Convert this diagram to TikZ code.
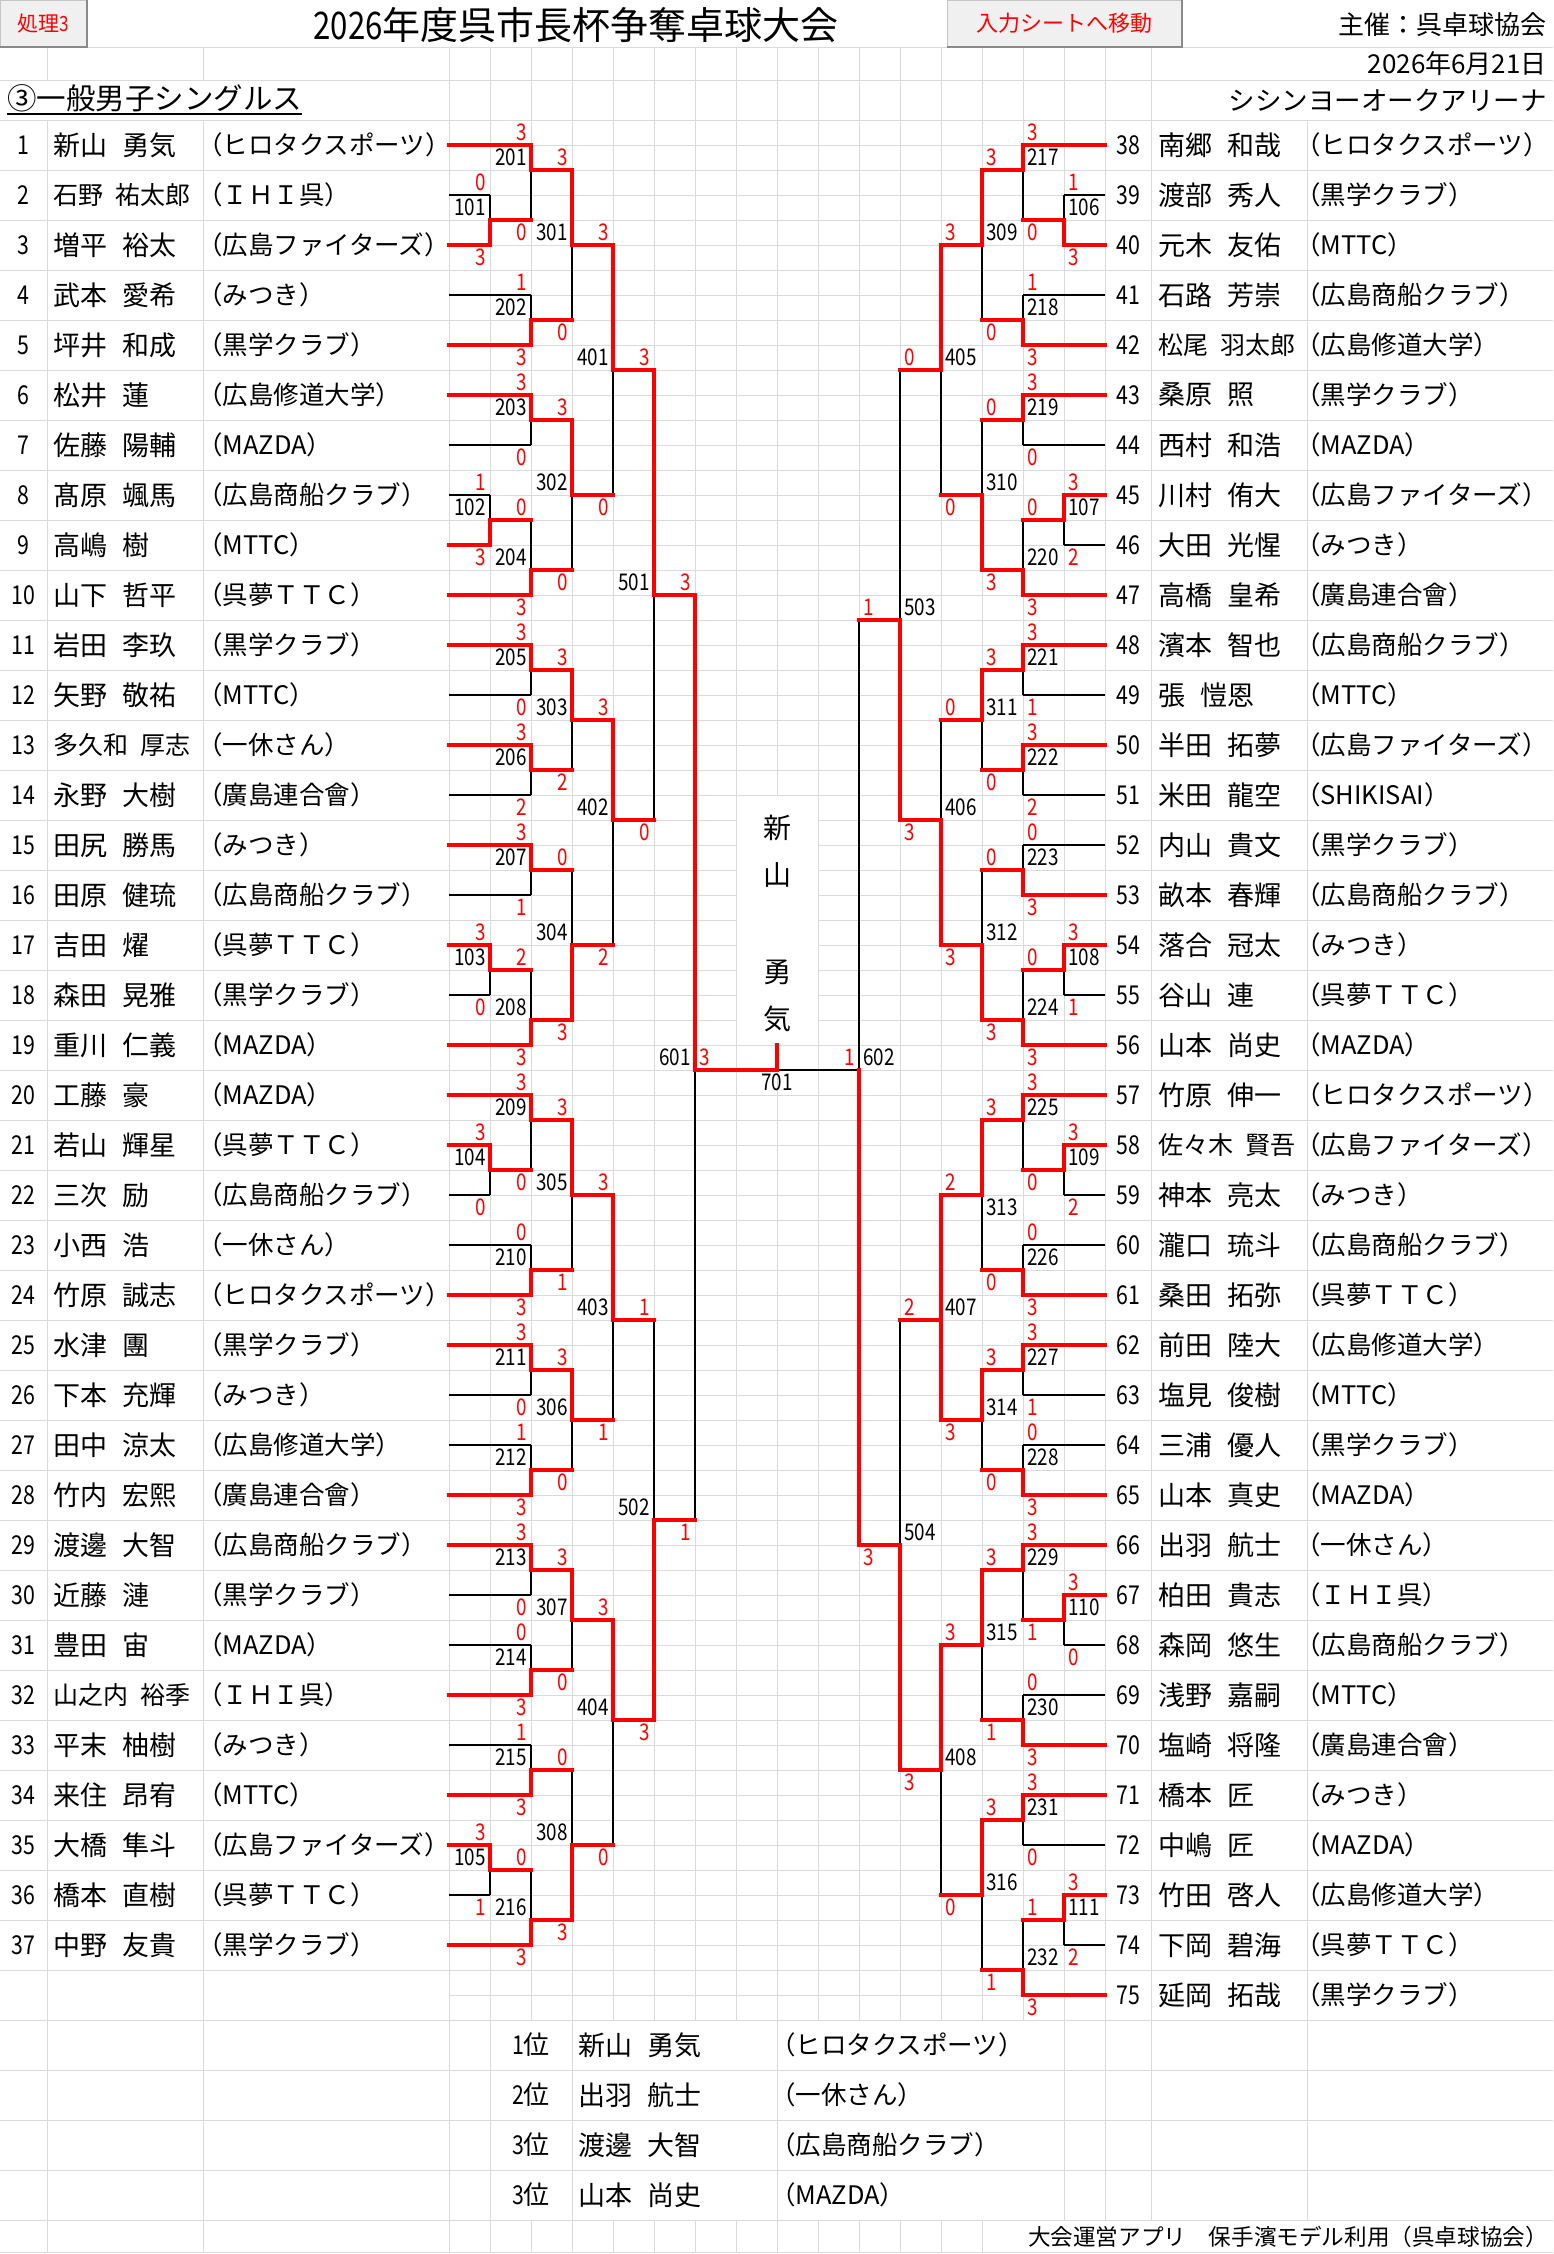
\documentclass[tikz,border=0pt]{standalone}
\usepackage{fontspec}
\setmainfont{Noto Sans CJK JP}
\definecolor{xred}{HTML}{FF0000}
\definecolor{gridc}{HTML}{DADADA}
\definecolor{btnf}{HTML}{F0F0F0}
\definecolor{btnd}{HTML}{8A8A8A}
\pgfdeclarelayer{gridlayer}
\pgfdeclarelayer{blklayer}
\pgfsetlayers{gridlayer,blklayer,main}
\newcommand\fs[1]{\fontsize{#1}{#1}\selectfont}
\newcommand\nd[1]{\scalebox{0.82}[1]{#1}}
\newcommand\gp{\hspace{0.55em}}
\newcommand\gq{\hspace{0.5em}}
\newcommand\longnm[1]{{\fs{25}#1}}
\tikzset{
  gridl/.style={draw=gridc, line width=1pt},
  redl/.style={draw=xred, line width=3.2pt, line cap=rect},
  blkl/.style={draw=black, line width=1.1pt},
  numt/.style={font=\fs{26}, inner sep=0pt},
  namet/.style={font=\fs{27}, inner sep=0pt, anchor=west},
  clubt/.style={font=\fs{25.5}, inner sep=0pt, anchor=west},
  sc/.style={font=\fs{23}, text=xred, inner sep=0pt},
  lbl/.style={font=\fs{23}, inner sep=0pt},
  btn/.style={fill=btnf, draw=btnd!50, line width=1pt, inner sep=0pt, text=xred},
}
% left player: number, name, club, end column, r/b
\newcommand\LP[5]{%
  \pgfmathsetmacro\bpY{145+50*(#1-1)}%
  \pgfmathsetmacro\bpE{449+41*#4}%
  \node[numt] (no#1) at (23.5,\bpY) {\nd{#1}};
  \node[namet] (nm#1) at (53,\bpY) {#2};
  \node[clubt] (cl#1) at (197,\bpY) {#3};
  \coordinate (ps#1) at (449,\bpY);
  \coordinate (pe#1) at (\bpE,\bpY);
  \if#5r\draw[redl] (ps#1) -- (pe#1);%
  \else\begin{pgfonlayer}{blklayer}\draw[blkl] (ps#1) -- (pe#1);\end{pgfonlayer}\fi
}
\newcommand\RP[5]{%
  \pgfmathsetmacro\bpY{145+50*(#1-38)}%
  \pgfmathsetmacro\bpE{449+41*#4}%
  \node[numt] (no#1) at (1128,\bpY) {\nd{#1}};
  \node[namet] (nm#1) at (1158,\bpY) {#2};
  \node[clubt] (cl#1) at (1295,\bpY) {#3};
  \coordinate (ps#1) at (1105,\bpY);
  \coordinate (pe#1) at (\bpE,\bpY);
  \if#5r\draw[redl] (ps#1) -- (pe#1);%
  \else\begin{pgfonlayer}{blklayer}\draw[blkl] (ps#1) -- (pe#1);\end{pgfonlayer}\fi
}
% match: label, column, ytop, ybot, yout, winner t/b, score top, score bottom, label y
\newcommand\LM[9]{%
  \pgfmathsetmacro\bmX{449+41*#2}%
  \pgfmathsetmacro\bmO{449+41*(#2+1)}%
  \coordinate (m#1t) at (\bmX,#3);
  \coordinate (m#1b) at (\bmX,#4);
  \coordinate (m#1o) at (\bmX,#5);
  \coordinate (m#1n) at (\bmO,#5);
  \if#6t\draw[redl] (m#1t) -- (m#1o);
    \begin{pgfonlayer}{blklayer}\draw[blkl] (m#1o) -- (m#1b);\end{pgfonlayer}%
  \else\begin{pgfonlayer}{blklayer}\draw[blkl] (m#1t) -- (m#1o);\end{pgfonlayer}%
    \draw[redl] (m#1o) -- (m#1b);\fi
  \ifnum#2<6 \draw[redl] (m#1o) -- (m#1n);\fi
  \node[sc,anchor=east] (m#1st) at (\bmX-4,#3-12.5) {\nd{#7}};
  \node[sc,anchor=east] (m#1sb) at (\bmX-4,#4+12.5) {\nd{#8}};
  \node[lbl,anchor=east] (ml#1) at (\bmX-4,#9) {\nd{#1}};
}
\newcommand\RM[9]{%
  \pgfmathsetmacro\bmX{449+41*#2}%
  \pgfmathsetmacro\bmO{449+41*(#2-1)}%
  \coordinate (m#1t) at (\bmX,#3);
  \coordinate (m#1b) at (\bmX,#4);
  \coordinate (m#1o) at (\bmX,#5);
  \coordinate (m#1n) at (\bmO,#5);
  \if#6t\draw[redl] (m#1t) -- (m#1o);
    \begin{pgfonlayer}{blklayer}\draw[blkl] (m#1o) -- (m#1b);\end{pgfonlayer}%
  \else\begin{pgfonlayer}{blklayer}\draw[blkl] (m#1t) -- (m#1o);\end{pgfonlayer}%
    \draw[redl] (m#1o) -- (m#1b);\fi
  \ifnum#2>10 \draw[redl] (m#1o) -- (m#1n);\fi
  \node[sc,anchor=west] (m#1st) at (\bmX+4,#3-12.5) {\nd{#7}};
  \node[sc,anchor=west] (m#1sb) at (\bmX+4,#4+12.5) {\nd{#8}};
  \node[lbl,anchor=west] (ml#1) at (\bmX+4,#9) {\nd{#1}};
}
\begin{document}
\begin{tikzpicture}[x=1pt,y=-1pt]
\useasboundingbox (0,0) rectangle (1553,2254);
% ---------------- grid ----------------
\begin{pgfonlayer}{gridlayer}
\fill[white] (0,0) rectangle (1553,2254);
\foreach \y in {47,80,120,2070,2120,2170,2220,2252} \draw[gridl] (0,\y) -- (1553,\y);
\foreach \i in {1,...,38}{\pgfmathtruncatemacro\yy{120+50*\i}%
  \draw[gridl] (0,\yy) -- (449,\yy) (1105,\yy) -- (1553,\yy);}
\foreach \i in {1,...,76}{\pgfmathtruncatemacro\yy{120+25*\i}%
  \ifnum\yy>795 \ifnum\yy<1045 \draw[gridl] (449,\yy) -- (736,\yy) (818,\yy) -- (1105,\yy);%
  \else \draw[gridl] (449,\yy) -- (1105,\yy);\fi
  \else \draw[gridl] (449,\yy) -- (1105,\yy);\fi}
\foreach \k in {0,...,16}{\pgfmathtruncatemacro\xx{449+41*\k}%
  \ifnum\k=8 \draw[gridl] (\xx,47) -- (\xx,795) (\xx,1045) -- (\xx,2020);%
  \else \draw[gridl] (\xx,47) -- (\xx,2020);\fi}
\foreach \k in {0,1,3,8,15,16}{\pgfmathtruncatemacro\xx{449+41*\k}\draw[gridl] (\xx,2020) -- (\xx,2220);}
\foreach \k in {0,...,13}{\pgfmathtruncatemacro\xx{449+41*\k}\draw[gridl] (\xx,2220) -- (\xx,2252);}
\draw[gridl] (47,47) -- (47,80) (47,120) -- (47,2252) (203,47) -- (203,80) (203,120) -- (203,2252);
\draw[gridl] (1151,47) -- (1151,2220) (1307,120) -- (1307,2220);
\end{pgfonlayer}
% ---------------- header ----------------
\node[btn, minimum width=86pt, minimum height=46pt, anchor=north west, font=\fs{21}] (btn1) at (0,0) {処理\nd{3}};
\draw[btnd, line width=2pt] (btn1.north east) -- (btn1.south east) -- (btn1.south west);
\node[btn, minimum width=234pt, minimum height=46pt, anchor=north west, font=\fs{22}] (btn2) at (947,0) {入力シートへ移動};
\draw[btnd, line width=2pt] (btn2.north east) -- (btn2.south east) -- (btn2.south west);
\node[inner sep=0pt, font=\fs{38}] (title) at (576,25) {\nd{2026}年度呉市長杯争奪卓球大会};
\node[inner sep=0pt, font=\fs{26}, anchor=east] (host) at (1547,25) {主催：呉卓球協会};
\node[inner sep=0pt, font=\fs{26}, anchor=east] (date) at (1547,64) {2026年6月21日};
\node[inner sep=0pt, font=\fs{29.5}, anchor=west] (event) at (7,98) {③一般男子シングルス};
\coordinate (ul) at (0,114);
\draw[line width=2.5pt] (event.west |- ul) -- (event.east |- ul);
\node[inner sep=0pt, font=\fs{26.5}, anchor=east] (venue) at (1547,100) {シシンヨーオークアリーナ};
% ---------------- players left ----------------
\LP{1}{新山\gp 勇気}{（ヒロタクスポーツ）}{2}{r}
\LP{2}{\longnm{石野\gq 祐太郎}}{（ＩＨＩ呉）}{1}{b}
\LP{3}{増平\gp 裕太}{（広島ファイターズ）}{1}{r}
\LP{4}{武本\gp 愛希}{（みつき）}{2}{b}
\LP{5}{坪井\gp 和成}{（黒学クラブ）}{2}{r}
\LP{6}{松井\gp 蓮}{（広島修道大学）}{2}{r}
\LP{7}{佐藤\gp 陽輔}{（MAZDA）}{2}{b}
\LP{8}{髙原\gp 颯馬}{（広島商船クラブ）}{1}{b}
\LP{9}{高嶋\gp 樹}{（MTTC）}{1}{r}
\LP{10}{山下\gp 哲平}{（呉夢ＴＴＣ）}{2}{r}
\LP{11}{岩田\gp 李玖}{（黒学クラブ）}{2}{r}
\LP{12}{矢野\gp 敬祐}{（MTTC）}{2}{b}
\LP{13}{\longnm{多久和\gq 厚志}}{（一休さん）}{2}{r}
\LP{14}{永野\gp 大樹}{（廣島連合會）}{2}{b}
\LP{15}{田尻\gp 勝馬}{（みつき）}{2}{r}
\LP{16}{田原\gp 健琉}{（広島商船クラブ）}{2}{b}
\LP{17}{吉田\gp 燿}{（呉夢ＴＴＣ）}{1}{r}
\LP{18}{森田\gp 晃雅}{（黒学クラブ）}{1}{b}
\LP{19}{重川\gp 仁義}{（MAZDA）}{2}{r}
\LP{20}{工藤\gp 豪}{（MAZDA）}{2}{r}
\LP{21}{若山\gp 輝星}{（呉夢ＴＴＣ）}{1}{r}
\LP{22}{三次\gp 励}{（広島商船クラブ）}{1}{b}
\LP{23}{小西\gp 浩}{（一休さん）}{2}{b}
\LP{24}{竹原\gp 誠志}{（ヒロタクスポーツ）}{2}{r}
\LP{25}{水津\gp 團}{（黒学クラブ）}{2}{r}
\LP{26}{下本\gp 充輝}{（みつき）}{2}{b}
\LP{27}{田中\gp 涼太}{（広島修道大学）}{2}{b}
\LP{28}{竹内\gp 宏熙}{（廣島連合會）}{2}{r}
\LP{29}{渡邊\gp 大智}{（広島商船クラブ）}{2}{r}
\LP{30}{近藤\gp 漣}{（黒学クラブ）}{2}{b}
\LP{31}{豊田\gp 宙}{（MAZDA）}{2}{b}
\LP{32}{\longnm{山之内\gq 裕季}}{（ＩＨＩ呉）}{2}{r}
\LP{33}{平末\gp 柚樹}{（みつき）}{2}{b}
\LP{34}{来住\gp 昂宥}{（MTTC）}{2}{r}
\LP{35}{大橋\gp 隼斗}{（広島ファイターズ）}{1}{r}
\LP{36}{橋本\gp 直樹}{（呉夢ＴＴＣ）}{1}{b}
\LP{37}{中野\gp 友貴}{（黒学クラブ）}{2}{r}
% ---------------- players right ----------------
\RP{38}{南郷\gp 和哉}{（ヒロタクスポーツ）}{14}{r}
\RP{39}{渡部\gp 秀人}{（黒学クラブ）}{15}{b}
\RP{40}{元木\gp 友佑}{（MTTC）}{15}{r}
\RP{41}{石路\gp 芳崇}{（広島商船クラブ）}{14}{b}
\RP{42}{\longnm{松尾\gq 羽太郎}}{（広島修道大学）}{14}{r}
\RP{43}{桑原\gp 照}{（黒学クラブ）}{14}{r}
\RP{44}{西村\gp 和浩}{（MAZDA）}{14}{b}
\RP{45}{川村\gp 侑大}{（広島ファイターズ）}{15}{r}
\RP{46}{大田\gp 光惺}{（みつき）}{15}{b}
\RP{47}{高橋\gp 皇希}{（廣島連合會）}{14}{r}
\RP{48}{濱本\gp 智也}{（広島商船クラブ）}{14}{r}
\RP{49}{張\gp 愷恩}{（MTTC）}{14}{b}
\RP{50}{半田\gp 拓夢}{（広島ファイターズ）}{14}{r}
\RP{51}{米田\gp 龍空}{（SHIKISAI）}{14}{b}
\RP{52}{内山\gp 貴文}{（黒学クラブ）}{14}{b}
\RP{53}{畝本\gp 春輝}{（広島商船クラブ）}{14}{r}
\RP{54}{落合\gp 冠太}{（みつき）}{15}{r}
\RP{55}{谷山\gp 連}{（呉夢ＴＴＣ）}{15}{b}
\RP{56}{山本\gp 尚史}{（MAZDA）}{14}{r}
\RP{57}{竹原\gp 伸一}{（ヒロタクスポーツ）}{14}{r}
\RP{58}{\longnm{佐々木\gq 賢吾}}{（広島ファイターズ）}{15}{r}
\RP{59}{神本\gp 亮太}{（みつき）}{15}{b}
\RP{60}{瀧口\gp 琉斗}{（広島商船クラブ）}{14}{b}
\RP{61}{桑田\gp 拓弥}{（呉夢ＴＴＣ）}{14}{r}
\RP{62}{前田\gp 陸大}{（広島修道大学）}{14}{r}
\RP{63}{塩見\gp 俊樹}{（MTTC）}{14}{b}
\RP{64}{三浦\gp 優人}{（黒学クラブ）}{14}{b}
\RP{65}{山本\gp 真史}{（MAZDA）}{14}{r}
\RP{66}{出羽\gp 航士}{（一休さん）}{14}{r}
\RP{67}{柏田\gp 貴志}{（ＩＨＩ呉）}{15}{r}
\RP{68}{森岡\gp 悠生}{（広島商船クラブ）}{15}{b}
\RP{69}{浅野\gp 嘉嗣}{（MTTC）}{14}{b}
\RP{70}{塩崎\gp 将隆}{（廣島連合會）}{14}{r}
\RP{71}{橋本\gp 匠}{（みつき）}{14}{r}
\RP{72}{中嶋\gp 匠}{（MAZDA）}{14}{b}
\RP{73}{竹田\gp 啓人}{（広島修道大学）}{15}{r}
\RP{74}{下岡\gp 碧海}{（呉夢ＴＴＣ）}{15}{b}
\RP{75}{延岡\gp 拓哉}{（黒学クラブ）}{14}{r}
% ---------------- left matches ----------------
\LM{101}{1}{195}{245}{220}{b}{0}{3}{207.5}
\LM{102}{1}{495}{545}{520}{b}{1}{3}{507.5}
\LM{103}{1}{945}{995}{970}{t}{3}{0}{957.5}
\LM{104}{1}{1145}{1195}{1170}{t}{3}{0}{1157.5}
\LM{105}{1}{1845}{1895}{1870}{t}{3}{1}{1857.5}
\LM{201}{2}{145}{220}{170}{t}{3}{0}{157.5}
\LM{202}{2}{295}{345}{320}{b}{1}{3}{307.5}
\LM{203}{2}{395}{445}{420}{t}{3}{0}{407.5}
\LM{204}{2}{520}{595}{570}{b}{0}{3}{557.5}
\LM{205}{2}{645}{695}{670}{t}{3}{0}{657.5}
\LM{206}{2}{745}{795}{770}{t}{3}{2}{757.5}
\LM{207}{2}{845}{895}{870}{t}{3}{1}{857.5}
\LM{208}{2}{970}{1045}{1020}{b}{2}{3}{1007.5}
\LM{209}{2}{1095}{1170}{1120}{t}{3}{0}{1107.5}
\LM{210}{2}{1245}{1295}{1270}{b}{0}{3}{1257.5}
\LM{211}{2}{1345}{1395}{1370}{t}{3}{0}{1357.5}
\LM{212}{2}{1445}{1495}{1470}{b}{1}{3}{1457.5}
\LM{213}{2}{1545}{1595}{1570}{t}{3}{0}{1557.5}
\LM{214}{2}{1645}{1695}{1670}{b}{0}{3}{1657.5}
\LM{215}{2}{1745}{1795}{1770}{b}{1}{3}{1757.5}
\LM{216}{2}{1870}{1945}{1920}{b}{0}{3}{1907.5}
\LM{301}{3}{170}{320}{245}{t}{3}{0}{232.5}
\LM{302}{3}{420}{570}{495}{t}{3}{0}{482.5}
\LM{303}{3}{670}{770}{720}{t}{3}{2}{707.5}
\LM{304}{3}{870}{1020}{945}{b}{0}{3}{932.5}
\LM{305}{3}{1120}{1270}{1195}{t}{3}{1}{1182.5}
\LM{306}{3}{1370}{1470}{1420}{t}{3}{0}{1407.5}
\LM{307}{3}{1570}{1670}{1620}{t}{3}{0}{1607.5}
\LM{308}{3}{1770}{1920}{1845}{b}{0}{3}{1832.5}
\LM{401}{4}{245}{495}{370}{t}{3}{0}{357.5}
\LM{402}{4}{720}{945}{820}{t}{3}{2}{807.5}
\LM{403}{4}{1195}{1420}{1320}{t}{3}{1}{1307.5}
\LM{404}{4}{1620}{1845}{1720}{t}{3}{0}{1707.5}
\LM{501}{5}{370}{820}{595}{t}{3}{0}{582.5}
\LM{502}{5}{1320}{1720}{1520}{b}{1}{3}{1507.5}
\LM{601}{6}{595}{1520}{1070}{t}{3}{1}{1057.5}
% ---------------- right matches ----------------
\RM{106}{15}{195}{245}{220}{b}{1}{3}{207.5}
\RM{107}{15}{495}{545}{520}{t}{3}{2}{507.5}
\RM{108}{15}{945}{995}{970}{t}{3}{1}{957.5}
\RM{109}{15}{1145}{1195}{1170}{t}{3}{2}{1157.5}
\RM{110}{15}{1595}{1645}{1620}{t}{3}{0}{1607.5}
\RM{111}{15}{1895}{1945}{1920}{t}{3}{2}{1907.5}
\RM{217}{14}{145}{220}{170}{t}{3}{0}{157.5}
\RM{218}{14}{295}{345}{320}{b}{1}{3}{307.5}
\RM{219}{14}{395}{445}{420}{t}{3}{0}{407.5}
\RM{220}{14}{520}{595}{570}{b}{0}{3}{557.5}
\RM{221}{14}{645}{695}{670}{t}{3}{1}{657.5}
\RM{222}{14}{745}{795}{770}{t}{3}{2}{757.5}
\RM{223}{14}{845}{895}{870}{b}{0}{3}{857.5}
\RM{224}{14}{970}{1045}{1020}{b}{0}{3}{1007.5}
\RM{225}{14}{1095}{1170}{1120}{t}{3}{0}{1107.5}
\RM{226}{14}{1245}{1295}{1270}{b}{0}{3}{1257.5}
\RM{227}{14}{1345}{1395}{1370}{t}{3}{1}{1357.5}
\RM{228}{14}{1445}{1495}{1470}{b}{0}{3}{1457.5}
\RM{229}{14}{1545}{1620}{1570}{t}{3}{1}{1557.5}
\RM{230}{14}{1695}{1745}{1720}{b}{0}{3}{1707.5}
\RM{231}{14}{1795}{1845}{1820}{t}{3}{0}{1807.5}
\RM{232}{14}{1920}{1995}{1970}{b}{1}{3}{1957.5}
\RM{309}{13}{170}{320}{245}{t}{3}{0}{232.5}
\RM{310}{13}{420}{570}{495}{b}{0}{3}{482.5}
\RM{311}{13}{670}{770}{720}{t}{3}{0}{707.5}
\RM{312}{13}{870}{1020}{945}{b}{0}{3}{932.5}
\RM{313}{13}{1120}{1270}{1195}{t}{3}{0}{1207.5}
\RM{314}{13}{1370}{1470}{1420}{t}{3}{0}{1407.5}
\RM{315}{13}{1570}{1720}{1645}{t}{3}{1}{1632.5}
\RM{316}{13}{1820}{1970}{1895}{t}{3}{1}{1882.5}
\RM{405}{12}{245}{495}{370}{t}{3}{0}{357.5}
\RM{406}{12}{720}{945}{820}{b}{0}{3}{807.5}
\RM{407}{12}{1195}{1420}{1320}{b}{2}{3}{1307.5}
\draw[redl] (m407t) -- (m407o);
\RM{408}{12}{1645}{1895}{1770}{t}{3}{0}{1757.5}
\RM{503}{11}{370}{820}{620}{b}{0}{3}{607.5}
\RM{504}{11}{1320}{1770}{1545}{b}{2}{3}{1532.5}
\RM{602}{10}{620}{1545}{1070}{b}{1}{3}{1057.5}
% ---------------- final ----------------
\coordinate (fin) at (777,1070);
\coordinate (champ) at (777,1045);
\draw[redl] (m601o) -- (fin) -- (champ);
\begin{pgfonlayer}{blklayer}\draw[blkl] (fin) -- (m602o);\end{pgfonlayer}
\node[sc,anchor=west] (fs1) at (699,1057.5) {\nd{3}};
\node[sc,anchor=east] (fs2) at (855,1057.5) {\nd{1}};
\node[lbl] (m701) at (777,1082.5) {\nd{701}};
\node[inner sep=0pt, font=\fs{28}] (ch1) at (777,828) {新};
\node[inner sep=0pt, font=\fs{28}] (ch2) at (777,875) {山};
\node[inner sep=0pt, font=\fs{28}] (ch3) at (777,972) {勇};
\node[inner sep=0pt, font=\fs{28}] (ch4) at (777,1019) {気};
% ---------------- ranking ----------------
\node[numt] (r1n) at (531,2045) {\nd{1}位};
\node[namet] (r1m) at (578,2045) {新山\gp 勇気};
\node[clubt] (r1c) at (770,2045) {（ヒロタクスポーツ）};
\node[numt] (r2n) at (531,2095) {\nd{2}位};
\node[namet] (r2m) at (578,2095) {出羽\gp 航士};
\node[clubt] (r2c) at (770,2095) {（一休さん）};
\node[numt] (r3n) at (531,2145) {\nd{3}位};
\node[namet] (r3m) at (578,2145) {渡邊\gp 大智};
\node[clubt] (r3c) at (770,2145) {（広島商船クラブ）};
\node[numt] (r4n) at (531,2195) {\nd{3}位};
\node[namet] (r4m) at (578,2195) {山本\gp 尚史};
\node[clubt] (r4c) at (770,2195) {（MAZDA）};
\node[inner sep=0pt, font=\fs{22.6}, anchor=east] (foot) at (1548,2237) {大会運営アプリ　保手濱モデル利用（呉卓球協会）};
\end{tikzpicture}
\end{document}
